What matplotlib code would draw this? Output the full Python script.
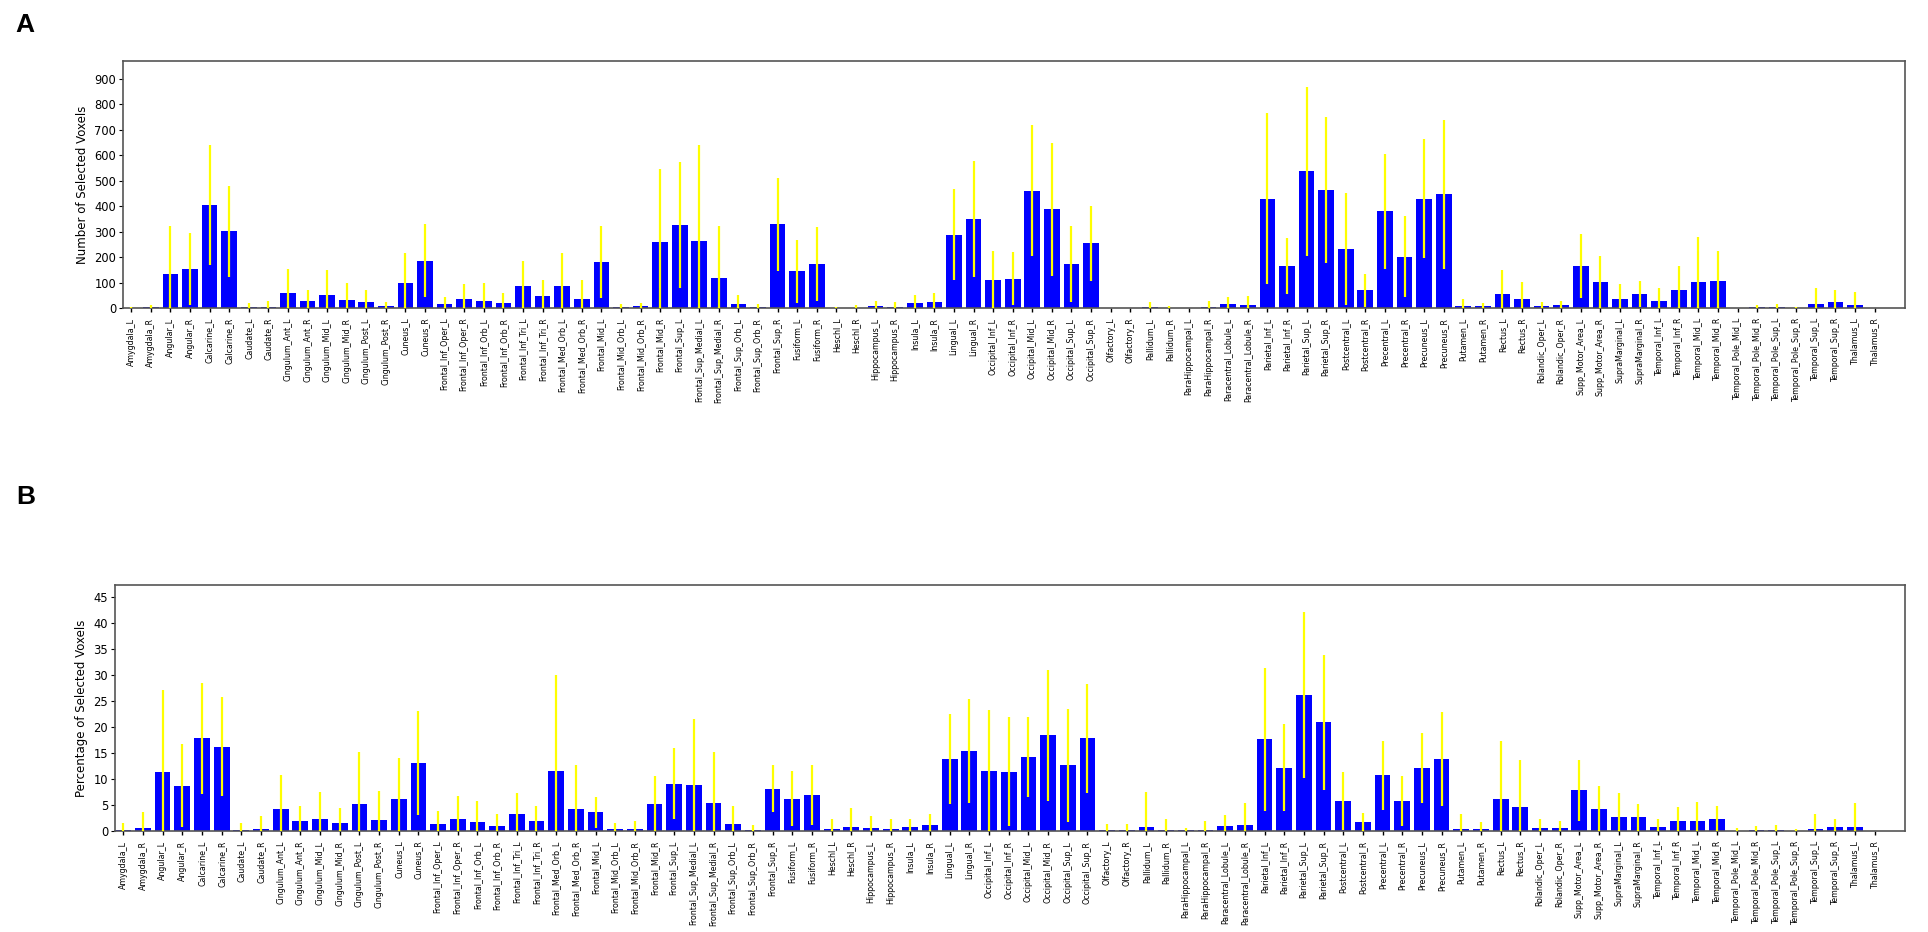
import numpy as np
import matplotlib
matplotlib.use("Agg")
import matplotlib.pyplot as plt

# AAL regions (alphabetical order as in the figure)
regions = [
    "Amygdala_L", "Amygdala_R", "Angular_L", "Angular_R", "Calcarine_L", "Calcarine_R",
    "Caudate_L", "Caudate_R", "Cingulum_Ant_L", "Cingulum_Ant_R", "Cingulum_Mid_L",
    "Cingulum_Mid_R", "Cingulum_Post_L", "Cingulum_Post_R", "Cuneus_L", "Cuneus_R",
    "Frontal_Inf_Oper_L", "Frontal_Inf_Oper_R", "Frontal_Inf_Orb_L", "Frontal_Inf_Orb_R",
    "Frontal_Inf_Tri_L", "Frontal_Inf_Tri_R", "Frontal_Med_Orb_L", "Frontal_Med_Orb_R",
    "Frontal_Mid_L", "Frontal_Mid_Orb_L", "Frontal_Mid_Orb_R", "Frontal_Mid_R",
    "Frontal_Sup_L", "Frontal_Sup_Medial_L", "Frontal_Sup_Medial_R", "Frontal_Sup_Orb_L",
    "Frontal_Sup_Orb_R", "Frontal_Sup_R", "Fusiform_L", "Fusiform_R", "Heschl_L", "Heschl_R",
    "Hippocampus_L", "Hippocampus_R", "Insula_L", "Insula_R", "Lingual_L", "Lingual_R",
    "Occipital_Inf_L", "Occipital_Inf_R", "Occipital_Mid_L", "Occipital_Mid_R",
    "Occipital_Sup_L", "Occipital_Sup_R", "Olfactory_L", "Olfactory_R", "Pallidum_L",
    "Pallidum_R", "ParaHippocampal_L", "ParaHippocampal_R", "Paracentral_Lobule_L",
    "Paracentral_Lobule_R", "Parietal_Inf_L", "Parietal_Inf_R", "Parietal_Sup_L",
    "Parietal_Sup_R", "Postcentral_L", "Postcentral_R", "Precentral_L", "Precentral_R",
    "Precuneus_L", "Precuneus_R", "Putamen_L", "Putamen_R", "Rectus_L", "Rectus_R",
    "Rolandic_Oper_L", "Rolandic_Oper_R", "Supp_Motor_Area_L", "Supp_Motor_Area_R",
    "SupraMarginal_L", "SupraMarginal_R", "Temporal_Inf_L", "Temporal_Inf_R",
    "Temporal_Mid_L", "Temporal_Mid_R", "Temporal_Pole_Mid_L", "Temporal_Pole_Mid_R",
    "Temporal_Pole_Sup_L", "Temporal_Pole_Sup_R", "Temporal_Sup_L", "Temporal_Sup_R",
    "Thalamus_L", "Thalamus_R",
]

# panel A: number of selected voxels (mean, std)
count_mean = [
    0.5, 2, 135, 153, 405, 301, 3, 5, 60, 26, 51, 33, 25, 8, 98, 185,
    17, 35, 28, 20, 86, 48, 85, 37, 181, 4, 8, 261, 326, 263, 118, 16,
    5, 328, 145, 173, 0.5, 1, 8, 5, 18, 22, 288, 350, 110, 114, 460, 387,
    173, 254, 0, 0, 2, 0.5, 0.5, 2, 14, 12, 430, 165, 537, 464, 231, 69,
    379, 202, 429, 447, 8, 7, 54, 35, 8, 10, 165, 102, 35, 54, 29, 69,
    102, 105, 0, 2, 2, 0, 16, 25, 12, 0,
]
count_std = [
    2, 10, 186, 140, 236, 179, 15, 21, 95, 46, 97, 65, 47, 17, 118, 143,
    26, 59, 70, 39, 100, 61, 131, 74, 140, 12, 12, 283, 247, 377, 203, 34,
    9, 183, 124, 144, 5, 12, 21, 17, 32, 36, 180, 229, 113, 104, 257, 262,
    148, 148, 0, 0, 20, 7, 1, 24, 31, 34, 334, 110, 332, 287, 219, 66,
    227, 158, 233, 293, 27, 13, 97, 69, 17, 18, 126, 101, 59, 51, 48, 95,
    177, 118, 0.5, 11, 14, 5, 61, 47, 50, 0,
]

# panel B: percentage of selected voxels (mean, std)
pct_mean = [
    0.2, 0.64, 11.3, 8.7, 17.8, 16.2, 0.26, 0.4, 4.3, 1.9, 2.3, 1.6, 5.2, 2.1, 6.2, 13.1,
    1.4, 2.4, 1.7, 1.0, 3.3, 2.0, 11.5, 4.2, 3.6, 0.4, 0.4, 5.1, 9.1, 8.8, 5.3, 1.35,
    0.26, 8.1, 6.2, 6.9, 0.45, 0.77, 0.64, 0.4, 0.8, 1.15, 13.8, 15.3, 11.5, 11.4, 14.2, 18.4,
    12.6, 17.8, 0.26, 0.26, 0.83, 0.26, 0.13, 0.26, 1.0, 1.2, 17.6, 12.2, 26.2, 20.9, 5.8, 1.7,
    10.7, 5.8, 12.1, 13.8, 0.4, 0.4, 6.2, 4.6, 0.6, 0.6, 7.8, 4.2, 2.6, 2.6, 0.83, 1.86,
    2.0, 2.4, 0.0, 0.1, 0.1, 0.0, 0.45, 0.77, 0.83, 0.0,
]
pct_std = [
    1.3, 3.0, 15.8, 8.0, 10.6, 9.5, 1.2, 2.4, 6.5, 3.0, 5.2, 2.8, 10.0, 5.6, 7.8, 10.0,
    2.4, 4.4, 4.0, 2.3, 4.0, 2.9, 18.4, 8.4, 3.0, 1.1, 1.5, 5.5, 6.8, 12.7, 9.8, 3.5,
    0.8, 4.5, 5.3, 5.7, 1.9, 3.7, 2.2, 1.9, 1.6, 2.05, 8.7, 10.0, 11.8, 10.5, 7.7, 12.6,
    10.9, 10.5, 1.15, 1.1, 6.6, 2.0, 0.5, 1.7, 2.1, 4.1, 13.7, 8.3, 16.0, 13.0, 5.6, 1.8,
    6.7, 4.8, 6.7, 9.0, 2.9, 1.3, 11.2, 9.0, 1.8, 1.3, 5.8, 4.4, 4.8, 2.6, 1.5, 2.7,
    3.6, 2.5, 0.64, 0.8, 1.05, 0.4, 2.9, 1.5, 4.5, 0.0,
]

W, H = 1928, 932
fig = plt.figure(figsize=(W / 100, H / 100), dpi=100)


def panel(rect_px, mean, std, ylabel, ylim, yticks, letter, letter_xy):
    left, top, right, bottom = rect_px
    ax = fig.add_axes([left / W, 1 - bottom / H, (right - left) / W, (bottom - top) / H])
    x = np.arange(len(regions))
    ax.bar(x, mean, width=0.8, color="#0000ff", edgecolor="none", zorder=2)
    ax.errorbar(x, mean, yerr=std, fmt="none", ecolor="#ffff00", elinewidth=1.6,
                capsize=0, zorder=3)
    ax.set_xlim(-0.42, len(regions) - 1 + 1.55)
    ax.set_ylim(*ylim)
    ax.set_yticks(yticks)
    ax.set_xticks(x)
    ax.set_xticklabels(regions, rotation=90, fontsize=5.7)
    ax.tick_params(axis="x", length=3, width=1, pad=4)
    ax.tick_params(axis="y", length=3, width=0.8, labelsize=8.3, pad=2)
    ax.set_ylabel(ylabel, fontsize=8.5, labelpad=4)
    for s in ax.spines.values():
        s.set_color("#555555")
        s.set_linewidth(1.2)
    fig.text(letter_xy[0] / W, 1 - letter_xy[1] / H, letter, fontsize=19,
             fontweight="bold", family="Liberation Sans", ha="center", va="center")
    return ax


panel((123, 61, 1905, 308), count_mean, count_std, "Number of Selected Voxels",
      (0, 970), np.arange(0, 901, 100), "A", (25, 25))
panel((115, 585, 1905, 831), pct_mean, pct_std, "Percentage of Selected Voxels",
      (0, 47.3), np.arange(0, 46, 5), "B", (26, 497))

fig.savefig("out.png", dpi=100)
